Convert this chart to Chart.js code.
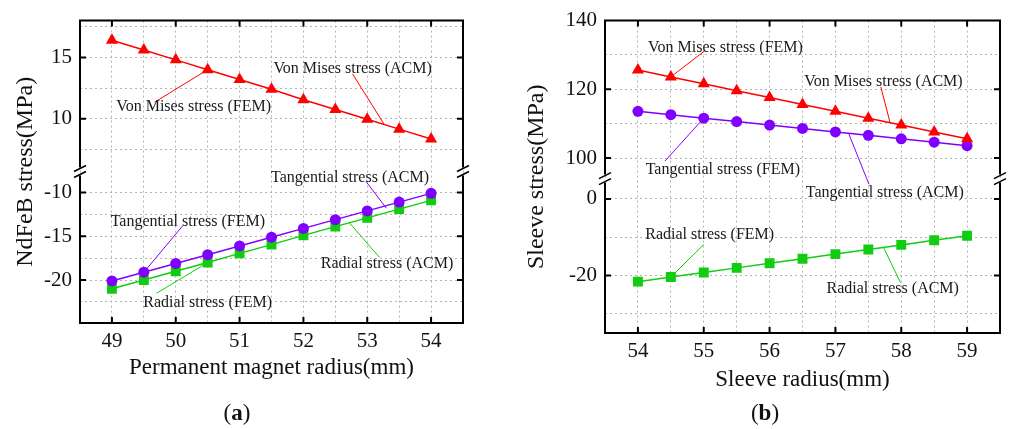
<!DOCTYPE html>
<html>
<head>
<meta charset="utf-8">
<script src="https://cdn.jsdelivr.net/npm/chart.js@4.4.0/dist/chart.umd.min.js"></script>
<style>
body { margin: 0; background: #fff; }
#wrap { position: relative; width: 1010px; height: 429px; font-family: "Liberation Serif", "Times New Roman", serif; color: #111; }
.panel { position: absolute; top: 0; height: 429px; }
.cap { position: absolute; font-size: 23px; transform: translateX(-50%); white-space: nowrap; }
</style>
</head>
<body>
<div id="wrap">
  <div class="panel" style="left:0;width:500px"><canvas id="chartA"></canvas></div>
  <div class="panel" style="left:500px;width:510px"><canvas id="chartB"></canvas></div>
  <div class="cap" style="left:237px;top:400px">(<b>a</b>)</div>
  <div class="cap" style="left:765px;top:400px">(<b>b</b>)</div>
</div>
<script>
// panel (a): permanent magnet
const radiusA = [49, 49.5, 50, 50.5, 51, 51.5, 52, 52.5, 53, 53.5, 54];
const vonMisesA = [16.4, 15.6, 14.8, 14.0, 13.2, 12.4, 11.55, 10.75, 9.95, 9.15, 8.35];
const tangentialA = [-20.1, -19.1, -18.1, -17.1, -16.1, -15.1, -14.1, -13.1, -12.1, -11.1, -10.1];
const radialA = [-21.0, -20.0, -19.0, -18.0, -16.95, -15.95, -14.9, -13.9, -12.9, -11.9, -10.9];
const xLabelsA = [49, 50, 51, 52, 53, 54];
const yLabelsA = [15, 10, -10, -15, -20];

// panel (b): sleeve
const radiusB = [54, 54.5, 55, 55.5, 56, 56.5, 57, 57.5, 58, 58.5, 59];
const vonMisesB = [125.6, 123.6, 121.6, 119.6, 117.6, 115.6, 113.6, 111.6, 109.6, 107.6, 105.6];
const tangentialB = [113.6, 112.6, 111.6, 110.6, 109.6, 108.6, 107.6, 106.6, 105.6, 104.6, 103.6];
const radialB = [-21.6, -20.4, -19.2, -18.0, -16.8, -15.6, -14.4, -13.2, -12.0, -10.8, -9.6];
const xLabelsB = [54, 55, 56, 57, 58, 59];
const yLabelsB = [140, 120, 100, 0, -20];

const RED = '#ff0000';
const PURPLE = '#8000ff';
const GREEN = '#11cc11';

// callout labels: text position and leader line, in data units [x, y, scale]
const notesA = [
    { text: 'Von Mises stress (ACM)', at: [52.77, 14.1, 'yHigh'], from: [52.77, 13.65, 'yHigh'], to: [53.27, 9.5, 'yHigh'], color: RED },
    { text: 'Von Mises stress (FEM)', at: [50.28, 10.95, 'yHigh'], from: [49.67, 11.35, 'yHigh'], to: [50.5, 14.0, 'yHigh'], color: RED },
    { text: 'Tangential stress (ACM)', at: [52.73, -8.3, 'yLow'], from: [52.98, -8.74, 'yLow'], to: [53.3, -11.8, 'yLow'], color: PURPLE },
    { text: 'Tangential stress (FEM)', at: [50.19, -13.3, 'yLow'], from: [50.11, -13.8, 'yLow'], to: [49.5, -19.1, 'yLow'], color: PURPLE },
    { text: 'Radial stress (ACM)', at: [53.31, -18.1, 'yLow'], from: [53.19, -17.4, 'yLow'], to: [52.72, -13.46, 'yLow'], color: GREEN },
    { text: 'Radial stress (FEM)', at: [50.5, -22.6, 'yLow'], from: [49.7, -21.5, 'yLow'], to: [50.5, -18.0, 'yLow'], color: GREEN }
];
const notesB = [
    { text: 'Von Mises stress (FEM)', at: [55.33, 132.2, 'yHigh'], from: [55.0, 131.0, 'yHigh'], to: [54.5, 123.6, 'yHigh'], color: RED },
    { text: 'Von Mises stress (ACM)', at: [57.73, 122.1, 'yHigh'], from: [57.69, 120.7, 'yHigh'], to: [57.83, 110.3, 'yHigh'], color: RED },
    { text: 'Tangential stress (FEM)', at: [55.29, 96.6, 'yHigh'], from: [54.41, 99.1, 'yHigh'], to: [55.0, 111.6, 'yHigh'], color: PURPLE },
    { text: 'Tangential stress (ACM)', at: [57.75, 1.7, 'yLow'], from: [57.51, 3.8, 'yLow'], to: [57.2, 107.2, 'yHigh'], color: PURPLE },
    { text: 'Radial stress (FEM)', at: [55.09, -9.35, 'yLow'], from: [55.0, -11.9, 'yLow'], to: [54.5, -20.4, 'yLow'], color: GREEN },
    { text: 'Radial stress (ACM)', at: [57.87, -23.5, 'yLow'], from: [57.99, -21.9, 'yLow'], to: [57.73, -12.6, 'yLow'], color: GREEN }
];

Chart.defaults.font.family = '"Liberation Serif", "Times New Roman", serif';
Chart.defaults.color = '#111';

// frame, inward ticks, axis break marks, y title and callouts
const framePlugin = {
    id: 'frame',
    afterDatasetsDraw(chart, args, opts) {
        const ctx = chart.ctx;
        const { left, right, top, bottom } = chart.chartArea;
        const x = chart.scales.x, hi = chart.scales.yHigh, lo = chart.scales.yLow;
        const brk = (hi.bottom + lo.top) / 2;
        const px = p => x.getPixelForValue(p[0]);
        const py = p => chart.scales[p[2]].getPixelForValue(p[1]);

        ctx.save();
        // callouts
        ctx.lineWidth = 1;
        opts.notes.forEach(n => {
            ctx.strokeStyle = n.color;
            ctx.beginPath();
            ctx.moveTo(px(n.from), py(n.from));
            ctx.lineTo(px(n.to), py(n.to));
            ctx.stroke();
        });
        ctx.fillStyle = '#1a1a1a';
        ctx.font = '16px "Liberation Serif", serif';
        ctx.textAlign = 'center';
        ctx.textBaseline = 'middle';
        opts.notes.forEach(n => ctx.fillText(n.text, px(n.at), py(n.at)));

        // box
        ctx.strokeStyle = '#000';
        ctx.lineWidth = 2;
        ctx.beginPath();
        ctx.moveTo(left, brk - 4); ctx.lineTo(left, top); ctx.lineTo(right, top); ctx.lineTo(right, brk - 4);
        ctx.moveTo(left, brk + 4); ctx.lineTo(left, bottom); ctx.lineTo(right, bottom); ctx.lineTo(right, brk + 4);
        opts.xLabels.forEach(v => {
            const p = x.getPixelForValue(v);
            ctx.moveTo(p, bottom); ctx.lineTo(p, bottom - 6);
            ctx.moveTo(p, top); ctx.lineTo(p, top + 6);
        });
        opts.yLabels.forEach(v => {
            const s = v >= hi.min ? hi : lo;
            const p = s.getPixelForValue(v);
            ctx.moveTo(left, p); ctx.lineTo(left + 6, p);
            ctx.moveTo(right, p); ctx.lineTo(right - 6, p);
        });
        ctx.stroke();

        // break marks
        ctx.lineWidth = 1.6;
        ctx.beginPath();
        [left, right].forEach(bx => {
            [-3, 3].forEach(d => {
                ctx.moveTo(bx - 6, brk + d + 3);
                ctx.lineTo(bx + 6, brk + d - 3);
            });
        });
        ctx.stroke();

        // y axis title
        ctx.fillStyle = '#111';
        ctx.font = '24px "Liberation Serif", serif';
        ctx.translate(opts.titleX, (top + bottom) / 2);
        ctx.rotate(-Math.PI / 2);
        ctx.fillText(opts.yTitle, 0, 0);
        ctx.restore();
    }
};

function series(xs, ys, color, style, radius, axis) {
    return {
        data: xs.map((v, i) => ({ x: v, y: ys[i] })),
        yAxisID: axis,
        borderColor: color,
        backgroundColor: color,
        borderWidth: 1.5,
        pointStyle: style,
        pointRadius: radius,
        pointBorderWidth: 0,
        tension: 0
    };
}

function yScale(min, max, step, weight, labels, order) {
    return {
        type: 'linear',
        position: 'left',
        stack: 'left',
        stackWeight: weight,
        weight: order,
        min: min,
        max: max,
        offset: false,
        afterFit: s => { s.width = 50; },
        border: { display: false, dash: [2, 3] },
        grid: { color: '#b4b4b4', lineWidth: 1, drawTicks: false },
        ticks: {
            stepSize: step,
            includeBounds: false,
            maxTicksLimit: 100,
            autoSkip: false,
            padding: 8,
            font: { size: 21 },
            callback: v => labels.includes(v) ? String(v) : ''
        }
    };
}

function makeChart(id, cfg) {
    return new Chart(document.getElementById(id), {
        type: 'line',
        data: { datasets: cfg.datasets },
        options: {
            animation: false,
            responsive: true,
            maintainAspectRatio: false,
            layout: { padding: cfg.padding },
            plugins: {
                legend: { display: false },
                tooltip: { enabled: false },
                frame: { notes: cfg.notes, xLabels: cfg.xLabels, yLabels: cfg.yLabels, yTitle: cfg.yTitle, titleX: cfg.titleX }
            },
            scales: {
                x: {
                    type: 'linear',
                    min: cfg.xMin,
                    max: cfg.xMax,
                    afterFit: s => { s.height = 65; },
                    border: { display: false, dash: [2, 3] },
                    grid: { color: '#b4b4b4', lineWidth: 1, drawTicks: false },
                    ticks: {
                        stepSize: 0.5,
                        maxTicksLimit: 100,
                        autoSkip: false,
                        maxRotation: 0,
                        padding: 6,
                        font: { size: 21 },
                        callback: v => cfg.xLabels.includes(v) ? String(v) : ''
                    },
                    title: { display: true, text: cfg.xTitle, font: { size: 23 }, padding: { top: 0, bottom: cfg.titlePad } }
                },
                yLow: yScale(cfg.low[0], cfg.low[1], cfg.step, cfg.low[2], cfg.yLabels, 0),
                yHigh: yScale(cfg.high[0], cfg.high[1], cfg.step, cfg.high[2], cfg.yLabels, 1)
            }
        },
        plugins: [framePlugin]
    });
}

makeChart('chartA', {
    datasets: [
        series(radiusA, vonMisesA, RED, 'triangle', 7, 'yHigh'),
        series(radiusA, tangentialA, PURPLE, 'circle', 5.5, 'yLow'),
        series(radiusA, radialA, GREEN, 'rect', 7, 'yLow')
    ],
    padding: { left: 30, right: 37, top: 13, bottom: 41 },
    xMin: 48.5, xMax: 54.5,
    low: [-24.9, -7.6, 155.7],
    high: [5.7, 18, 155],
    step: 2.5,
    xLabels: xLabelsA, yLabels: yLabelsA,
    xTitle: 'Permanent magnet radius(mm)', titlePad: 6,
    yTitle: 'NdFeB stress(MPa)', titleX: 26,
    notes: notesA
});

makeChart('chartB', {
    datasets: [
        series(radiusB, vonMisesB, RED, 'triangle', 7, 'yHigh'),
        series(radiusB, tangentialB, PURPLE, 'circle', 5.5, 'yHigh'),
        series(radiusB, radialB, GREEN, 'rect', 7, 'yLow')
    ],
    padding: { left: 55, right: 10, top: 16, bottom: 31 },
    xMin: 53.5, xMax: 59.5,
    low: [-35, 5.3, 156.5],
    high: [94, 140, 160.2],
    step: 10,
    xLabels: xLabelsB, yLabels: yLabelsB,
    xTitle: 'Sleeve radius(mm)', titlePad: 4,
    yTitle: 'Sleeve stress(MPa)', titleX: 37,
    notes: notesB
});
</script>
</body>
</html>
